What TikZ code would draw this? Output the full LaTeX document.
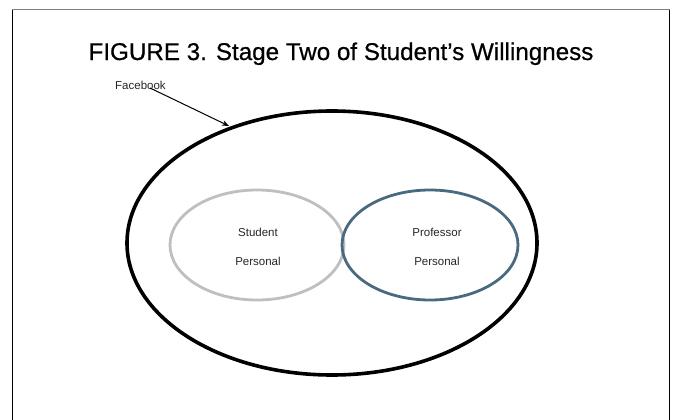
\documentclass[tikz,border=0pt]{standalone}
\usepackage{fontspec}
\setmainfont{Liberation Sans}
\newfontfamily\titlefont[FakeBold=0.6]{Liberation Sans}
\usetikzlibrary{arrows.meta}
\definecolor{profblue}{RGB}{74,106,128}
\begin{document}
\begin{tikzpicture}[x=1pt,y=-1pt,
  frameline/.style={draw=black,line width=0.9pt},
  outerring/.style={draw=black,line width=3.6pt},
  studentring/.style={draw=black!25,line width=2.8pt},
  profring/.style={draw=profblue,line width=2.8pt},
  lbl/.style={font=\fontsize{11.5}{13}\selectfont,inner sep=0pt,text=black!85},
  pointer/.style={draw=black,line width=1pt,-{Stealth[length=7pt,width=5.5pt]}}]
\useasboundingbox (0,0) rectangle (675,420);
\fill[white] (0,0) rectangle (675,420);
% page frame: open at the bottom, lighter top edge
\draw[frameline] (12,422) -- (12,9.5);
\draw[frameline] (669,422) -- (669,9.5);
\draw[draw=black!50,line width=0.9pt] (11.5,9.5) -- (669.5,9.5);
% title
\node[font=\titlefont\fontsize{24.2}{28}\selectfont,inner sep=0pt,anchor=base] (title) at (341,60) {FIGURE 3. Stage Two of Student’s Willingness};
% nested ellipses
\draw[outerring] (332,243) ellipse [x radius=205, y radius=132];
\draw[studentring] (257,245) ellipse [x radius=87, y radius=55];
\draw[profring] (430,245) ellipse [x radius=88, y radius=55];
% labels
\node[lbl] (stu1) at (258,232) {Student};
\node[lbl] (stu2) at (258,261) {Personal};
\node[lbl] (pro1) at (437,232) {Professor};
\node[lbl] (pro2) at (437,261) {Personal};
\node[lbl,anchor=west] (fb) at (115,85) {Facebook};
\coordinate (fbtail) at (150,88);
\coordinate (fbhead) at (229,126);
\draw[pointer] (fbtail) -- (fbhead);
\end{tikzpicture}
\end{document}
